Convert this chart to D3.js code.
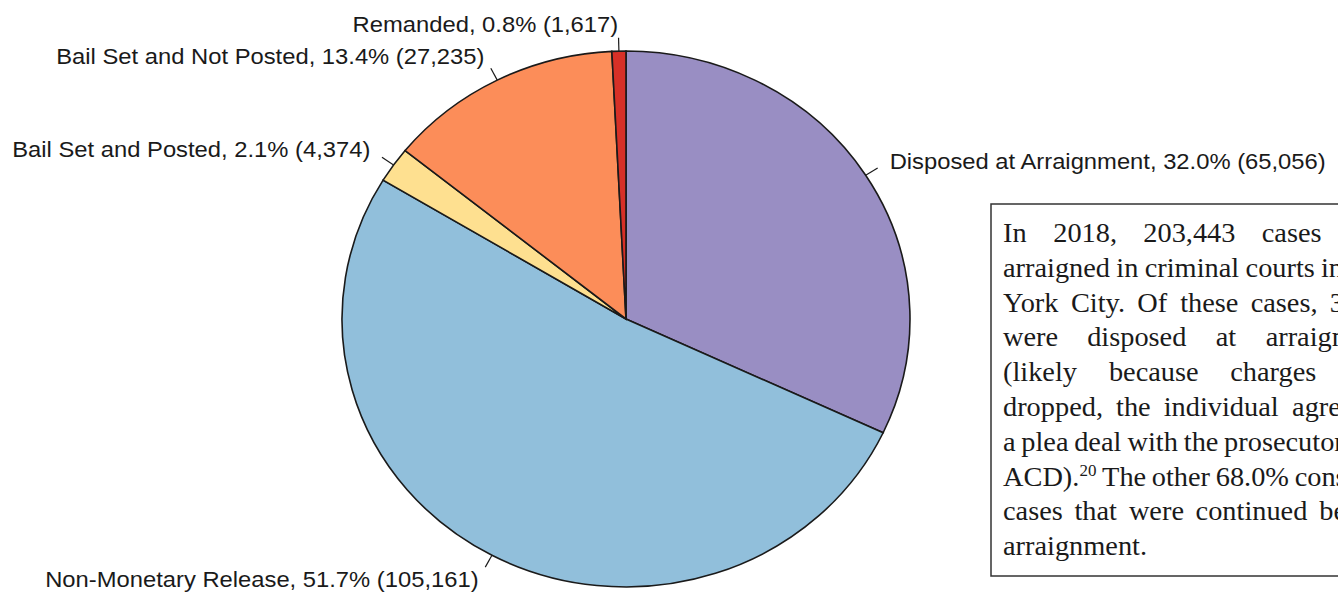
<!DOCTYPE html>
<html>
<head>
<meta charset="utf-8">
<script src="https://cdn.jsdelivr.net/npm/d3@7"></script>
<style>
  body { margin: 0; background: #fff; overflow: hidden; }
</style>
</head>
<body>
<div id="vis"></div>
<script>
const WIDTH = 1338;
const HEIGHT = 596;

// data
const categories = ["Disposed at Arraignment", "Non-Monetary Release", "Bail Set and Posted",
                    "Bail Set and Not Posted", "Remanded"];
const counts = [65056, 105161, 4374, 27235, 1617];
const percents = ["32.0%", "51.7%", "2.1%", "13.4%", "0.8%"];
const colors = ["#998ec3", "#91bfdb", "#fee090", "#fc8d59", "#d73027"];

const noteLines = [
    "In 2018, 203,443 cases were",
    "arraigned in criminal courts in New",
    "York City. Of these cases, 32.0%",
    "were disposed at arraignment",
    "(likely because charges were",
    "dropped, the individual agreed to",
    "a plea deal with the prosecutor, or an",
    "ACD).^20 The other 68.0% consisted of",
    "cases that were continued beyond",
    "arraignment."
];

const CX = 626, CY = 319;
const R = 268;          // vertical radius
const SX = 284 / 268;   // picture is a little wider than tall

const svg = d3.select("#vis").append("svg")
    .attr("width", WIDTH)
    .attr("height", HEIGHT);

const data = categories.map((c, i) => ({name: c, count: counts[i], pct: percents[i], color: colors[i]}));

const pie = d3.pie().sort(null).value(d => d.count);
const arc = d3.arc().innerRadius(0).outerRadius(R);
const arcs = pie(data);

const g = svg.append("g")
    .attr("transform", "translate(" + CX + "," + CY + ") scale(" + SX + ",1)");

g.selectAll(".slice")
    .data(arcs)
    .enter().append("path")
    .attr("class", "slice")
    .attr("d", arc)
    .attr("fill", d => d.data.color)
    .attr("stroke", "#1a1a1a")
    .attr("stroke-width", 1.6)
    .attr("vector-effect", "non-scaling-stroke");

function pt(a, k) {
    return [R * k * Math.sin(a), -R * k * Math.cos(a)];
}
const mid = d => (d.startAngle + d.endAngle) / 2;

g.selectAll(".tick")
    .data(arcs)
    .enter().append("line")
    .attr("class", "tick")
    .attr("x1", d => pt(mid(d), 1)[0])
    .attr("y1", d => pt(mid(d), 1)[1])
    .attr("x2", d => pt(mid(d), 1.05)[0])
    .attr("y2", d => pt(mid(d), 1.05)[1])
    .attr("stroke", "#1a1a1a")
    .attr("stroke-width", 1.2)
    .attr("vector-effect", "non-scaling-stroke");

g.selectAll(".lbl")
    .data(arcs)
    .enter().append("text")
    .attr("class", "lbl")
    .attr("x", d => pt(mid(d), 1.1)[0])
    .attr("y", d => pt(mid(d), 1.1)[1])
    .attr("dy", "0.35em")
    .attr("text-anchor", d => Math.sin(mid(d)) < 0 ? "end" : "start")
    .attr("font-family", "'Liberation Sans', Arial, sans-serif")
    .attr("font-size", 22.45)
    .attr("fill", "#1a1a1a")
    .text(d => d.data.name + ", " + d.data.pct + " (" + d3.format(",")(d.data.count) + ")");

// text box on the right
const BOX = {x: 991, y: 204, w: 420, h: 372};
svg.append("rect")
    .attr("x", BOX.x).attr("y", BOX.y)
    .attr("width", BOX.w).attr("height", BOX.h)
    .attr("fill", "#fff")
    .attr("stroke", "#333")
    .attr("stroke-width", 1.5);

const TX = 1003, TW = 400, TY0 = 242, LH = 34.8, FS = 26.5, NSX = 1.07;
const note = svg.append("g")
    .attr("transform", "translate(" + TX + ",0) scale(" + NSX + ",1)")
    .attr("font-family", "'Liberation Serif', 'Times New Roman', serif")
    .attr("font-size", FS)
    .attr("fill", "#1a1a1a");

function addWord(parent, word, x, y) {
    const t = parent.append("text").attr("x", x).attr("y", y);
    if (word.includes("^")) {
        const parts = word.split("^");
        t.append("tspan").text(parts[0]);
        t.append("tspan").attr("font-size", FS * 0.6).attr("dy", -FS * 0.38).text(parts[1]);
    } else {
        t.text(word);
    }
    return t;
}

const lw = TW / NSX;
noteLines.forEach((line, i) => {
    const y = TY0 + i * LH;
    const words = line.split(" ");
    const nodes = words.map(w => addWord(note, w, 0, y));
    const widths = nodes.map(n => n.node().getBBox().width);
    const total = d3.sum(widths);
    const space = FS * 0.25;
    let gap = space;
    if (i < noteLines.length - 1 && words.length > 1) {
        gap = Math.max(space * 0.8, (lw - total) / (words.length - 1));
    }
    let x = 0;
    nodes.forEach((n, j) => {
        n.attr("x", x);
        x += widths[j] + gap;
    });
});
</script>
</body>
</html>
